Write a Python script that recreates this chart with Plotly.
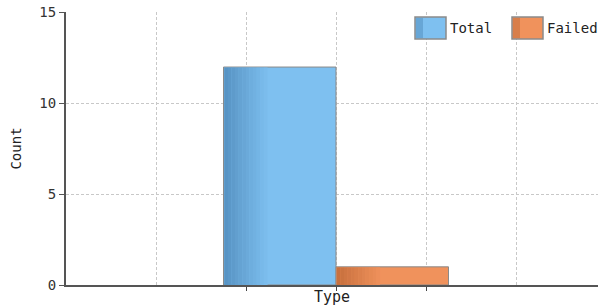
import plotly.graph_objects as go

# ---- data ----
series_names = ["Total", "Failed"]
series_values = [12, 1]
category = "Type"
y_ticks = [0, 5, 10, 15]

# ---- style ----
base_colors = [(126, 192, 240), (240, 146, 92)]
dark_colors = [(88, 148, 196), (200, 112, 62)]
border = "#8a8a8a"
font_fam = "DejaVu Sans Mono, monospace"
bar_w = 1.25
offsets = [-1.25, 0.0]

def rgb(c):
    return "rgb(%d,%d,%d)" % c

def mix(a, b, t):
    return tuple(int(round(a[i] + (b[i] - a[i]) * t)) for i in range(3))

fig = go.Figure()
n_stripes = 12
stripe_w = 0.04
for name, val, bc, dc, off in zip(series_names, series_values, base_colors, dark_colors, offsets):
    fig.add_trace(go.Bar(
        x=[0], y=[val], width=[bar_w], offset=[off], name=name,
        marker=dict(color=rgb(bc), line=dict(color=border, width=1)),
        showlegend=False, hoverinfo="skip"))
    # left-side shading (gradient approximation)
    xs, ys, ws, os_, cs = [], [], [], [], []
    for i in range(n_stripes):
        t = i / n_stripes
        xs.append(0); ys.append(val - 0.03); ws.append(stripe_w + 0.002)
        os_.append(off + 0.008 + i * stripe_w)
        cs.append(rgb(mix(dc, bc, t)))
    fig.add_trace(go.Bar(
        x=xs, y=ys, width=ws, offset=os_,
        marker=dict(color=cs, line=dict(width=0)),
        showlegend=False, hoverinfo="skip"))

# plot area: x 66..598, y 12..285 (body margin removed via post_script)
L, T, W, H, PH = 66, 12, 598, 306, 273
PW = W - L
fig.update_layout(
    width=W, height=H,
    margin=dict(l=L, r=0, t=T, b=H - T - PH),
    paper_bgcolor="white", plot_bgcolor="white",
    barmode="overlay", showlegend=False,
    font=dict(family=font_fam, color="#222222", size=14),
)
fig.update_xaxes(
    range=[-3, -3 + PW / 90.0], tickmode="array", tickvals=[-1, 0, 1],
    showticklabels=False, ticks="outside", ticklen=4, tickcolor="#444",
    showgrid=True, gridcolor="#c8c8c8", griddash="3px,2px", gridwidth=1,
    minor=dict(tickmode="array", tickvals=[-2, 2], showgrid=True,
               gridcolor="#c8c8c8", griddash="3px,2px", ticks=""),
    showline=True, linecolor="#555555", linewidth=1.5,
    zeroline=False, fixedrange=True,
    title=dict(text=category, standoff=2, font=dict(size=15, color="#222")),
    automargin=False,
)
fig.update_yaxes(
    range=[0, 15.03], tickmode="array", tickvals=y_ticks,
    ticks="outside", ticklen=5, tickcolor="#555",
    tickfont=dict(size=14, color="#333"), ticklabeloverflow="allow",
    showgrid=True, gridcolor="#c8c8c8", griddash="3px,2px",
    showline=True, linecolor="#555555", linewidth=2,
    zeroline=False,
    title=dict(text="Count", standoff=14, font=dict(size=14, color="#222")),
    automargin=False,
)

# legend (drawn manually to match the large swatches); coords in window px
def px(wx):
    return (wx - L) / PW

def py(wy):
    return (T + PH - wy) / PH

leg_x0 = [415, 512]
for name, bc, dc, x0 in zip(series_names, base_colors, dark_colors, leg_x0):
    fig.add_shape(type="rect", xref="paper", yref="paper",
                  x0=px(x0), x1=px(x0 + 31), y0=py(39), y1=py(17),
                  fillcolor=rgb(bc), line=dict(color=border, width=1.5), layer="above")
    fig.add_shape(type="rect", xref="paper", yref="paper",
                  x0=px(x0 + 1), x1=px(x0 + 8), y0=py(38), y1=py(18),
                  fillcolor=rgb(mix(dc, bc, 0.4)), line=dict(width=0), layer="above")
    fig.add_annotation(xref="paper", yref="paper",
                       x=px(x0 + 33), y=py(28),
                       text=name, showarrow=False, xanchor="left", yanchor="middle",
                       font=dict(size=14, color="#222"))

fig.write_html(
    "out.html",
    config={"displayModeBar": False},
    post_script="document.body.style.margin='0';document.body.style.overflow='hidden';",
)
